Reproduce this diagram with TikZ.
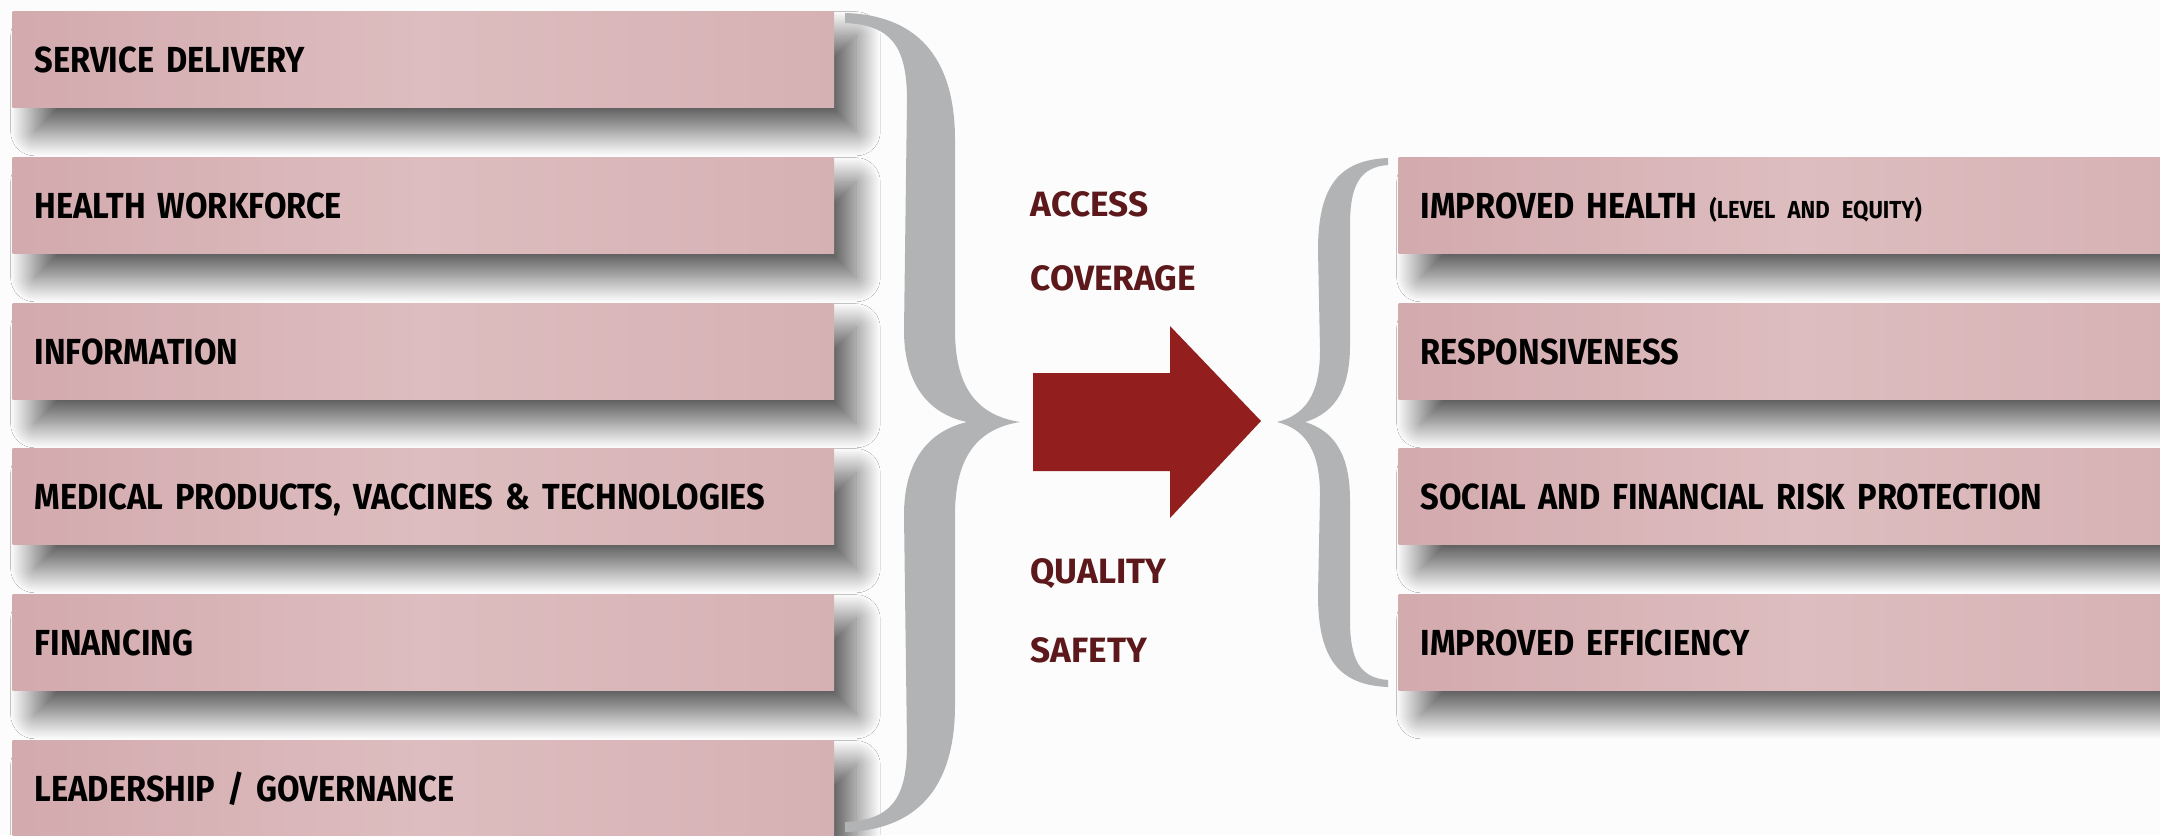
\documentclass[tikz,border=0pt]{standalone}
\usepackage{fontspec}
\newfontfamily\barfont[FakeStretch=0.9,WordSpace=0.55]{Fira Sans}
\newfontfamily\midfont{Fira Sans}
\usetikzlibrary{shadows.blur}

\definecolor{pageback}{RGB}{252,252,252}
\definecolor{pinkleft}{RGB}{211,170,174}
\definecolor{pinkmid}{RGB}{221,189,191}
\definecolor{pinkright}{RGB}{214,177,180}
\definecolor{bracegray}{RGB}{177,179,181}
\definecolor{arrowred}{RGB}{146,30,30}
\definecolor{maroon}{RGB}{92,24,26}

\begin{document}
\begin{tikzpicture}[x=0.01cm,y=-0.01cm,
  sysbox/.style={anchor=north west,text width=#1,align=left,inner xsep=0.22cm,
    inner ysep=0pt,minimum height=0.96cm,text height=7.1pt,text depth=0pt,
    left color=pinkleft,right color=pinkright,middle color=pinkmid,
    blur shadow={shadow xshift=0.22cm,shadow yshift=-0.24cm,
      shadow blur radius=0.24cm,shadow blur steps=24,shadow opacity=62},
    font=\fontsize{10.3}{12}\selectfont\barfont\bfseries},
  dimlabel/.style={anchor=west,inner sep=0pt,text height=7pt,text depth=0pt,
    text=maroon,font=\fontsize{10}{12}\selectfont\midfont\bfseries}]

  \useasboundingbox[fill=pageback] (0,0) rectangle (2160,835);

  % building blocks
  \node[sysbox=7.77cm] (service) at (12,11) {SERVICE DELIVERY};
  \node[sysbox=7.77cm] (workforce) at (12,157) {HEALTH WORKFORCE};
  \node[sysbox=7.77cm] (info) at (12,303) {INFORMATION};
  \node[sysbox=7.77cm] (products) at (12,448) {MEDICAL PRODUCTS, VACCINES \& TECHNOLOGIES};
  \node[sysbox=7.77cm] (financing) at (12,594) {FINANCING};
  \node[sysbox=7.77cm] (leadership) at (12,740) {LEADERSHIP / GOVERNANCE};

  % outcomes
  \node[sysbox=7.58cm] (health) at (1398,157) {IMPROVED HEALTH {\fontsize{7}{8}\selectfont (LEVEL AND EQUITY)}};
  \node[sysbox=7.58cm] (respons) at (1398,303) {RESPONSIVENESS};
  \node[sysbox=7.58cm] (risk) at (1398,448) {SOCIAL AND FINANCIAL RISK PROTECTION};
  \node[sysbox=7.58cm] (efficiency) at (1398,594) {IMPROVED EFFICIENCY};

  % braces
  \fill[bracegray] (845,13) .. controls (915,15) and (955,55) .. (955,140)
    -- (955,330) .. controls (955,385) and (975,415) .. (1020,422)
    .. controls (975,429) and (955,460) .. (955,515)
    -- (955,705) .. controls (955,790) and (915,830) .. (845,832)
    -- (845,822) .. controls (890,820) and (907,800) .. (907,745)
    -- (904,515) .. controls (904,465) and (925,432) .. (967,422)
    .. controls (925,413) and (904,380) .. (904,330)
    -- (907,100) .. controls (907,45) and (890,25) .. (845,23) -- cycle;
  \fill[bracegray] (1388,158) .. controls (1340,160) and (1318,185) .. (1318,250)
    -- (1320,350) .. controls (1320,395) and (1305,415) .. (1277,422)
    .. controls (1305,429) and (1320,450) .. (1320,495)
    -- (1318,595) .. controls (1318,660) and (1340,685) .. (1388,687)
    -- (1388,680) .. controls (1360,678) and (1350,660) .. (1350,620)
    -- (1350,500) .. controls (1350,460) and (1338,432) .. (1305,422)
    .. controls (1338,412) and (1350,385) .. (1350,345)
    -- (1350,225) .. controls (1350,185) and (1360,167) .. (1388,165) -- cycle;

  % arrow
  \fill[arrowred] (1033,373) -- (1170,373) -- (1170,326) -- (1261,421)
    -- (1170,518) -- (1170,471) -- (1033,471) -- cycle;

  \node[dimlabel] (access) at (1030,204) {ACCESS};
  \node[dimlabel] (coverage) at (1030,278) {COVERAGE};
  \node[dimlabel] (quality) at (1030,571) {QUALITY};
  \node[dimlabel] (safety) at (1030,650) {SAFETY};
\end{tikzpicture}
\end{document}
